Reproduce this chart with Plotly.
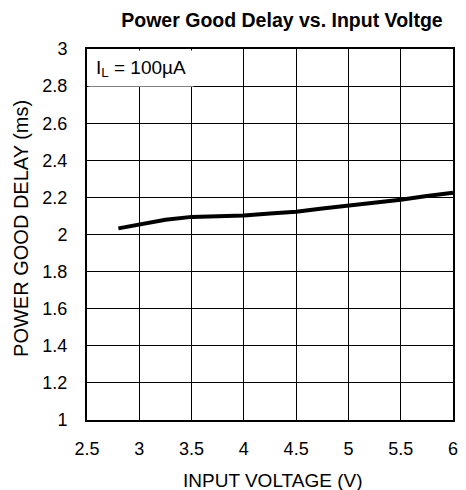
import plotly.graph_objects as go

voltage = [2.8, 3.0, 3.25, 3.5, 3.75, 4.0, 4.25, 4.5, 4.75, 5.0, 5.25, 5.5, 5.75, 6.0]
delay_ms = [2.033, 2.056, 2.080, 2.095, 2.097, 2.103, 2.113, 2.123, 2.140, 2.154, 2.170, 2.187, 2.207, 2.225]

x_ticks = [2.5, 3, 3.5, 4, 4.5, 5, 5.5, 6]
x_tick_labels = ["2.5", "3", "3.5", "4", "4.5", "5", "5.5", "6"]
y_ticks = [1, 1.2, 1.4, 1.6, 1.8, 2, 2.2, 2.4, 2.6, 2.8, 3]
y_tick_labels = ["1", "1.2", "1.4", "1.6", "1.8", "2", "2.2", "2.4", "2.6", "2.8", "3"]

title_text = "Power Good Delay vs. Input Voltge"
x_title = "INPUT VOLTAGE (V)"
y_title = "POWER GOOD DELAY (ms)"
note_text = "I<sub>L</sub> = 100µA"

FONT = "Liberation Sans, Arial, sans-serif"

# page body has an 8px default margin; figure is sized/offset to compensate
W, H = 458, 482
L, R, T, B = 79, 8, 41, 70
PH = H - T - B  # plot height
PW = W - L - R

fig = go.Figure()
fig.add_trace(go.Scatter(x=voltage, y=delay_ms, mode="lines",
                         line=dict(color="black", width=4), showlegend=False,
                         hoverinfo="skip"))

fig.update_layout(
    width=W, height=H,
    margin=dict(l=L, r=R, t=T, b=B),
    paper_bgcolor="white", plot_bgcolor="white",
    font=dict(family=FONT, color="black", size=18),
    title=dict(text="<b>" + title_text + "</b>", x=274 / W, xanchor="center",
               y=1 - 12 / H, yanchor="middle",
               font=dict(family=FONT, size=19.5, color="black")),
    showlegend=False,
)
fig.update_xaxes(range=[2.5, 6], tickvals=x_ticks, ticktext=x_tick_labels,
                 showgrid=True, gridcolor="black", gridwidth=1,
                 showline=True, linecolor="black", linewidth=2, mirror=True,
                 ticks="", ticklabelstandoff=11, zeroline=False,
                 tickfont=dict(family=FONT, size=18, color="black"))
fig.update_yaxes(range=[1, 3], tickvals=y_ticks, ticktext=y_tick_labels,
                 showgrid=True, gridcolor="black", gridwidth=1,
                 showline=True, linecolor="black", linewidth=2, mirror=True,
                 ticks="", ticklabelstandoff=14, zeroline=False,
                 tickfont=dict(family=FONT, size=18, color="black"))

fig.add_annotation(xref="paper", yref="paper", x=0.003, y=0.997,
                   xanchor="left", yanchor="top", text=note_text,
                   showarrow=False, bgcolor="white", align="center",
                   width=104, height=35, borderpad=0,
                   font=dict(family=FONT, size=19, color="black"))
fig.add_annotation(xref="paper", yref="paper", x=(267 - L) / PW, y=-60 / PH,
                   xanchor="center", yanchor="middle", text=x_title,
                   showarrow=False,
                   font=dict(family=FONT, size=19, color="black"))
fig.add_annotation(xref="paper", yref="paper", x=-67 / PW, y=(412 - 220) / PH,
                   xanchor="center", yanchor="middle", text=y_title,
                   textangle=-90, showarrow=False,
                   font=dict(family=FONT, size=20, color="black"))

fig.write_html("out.html")
